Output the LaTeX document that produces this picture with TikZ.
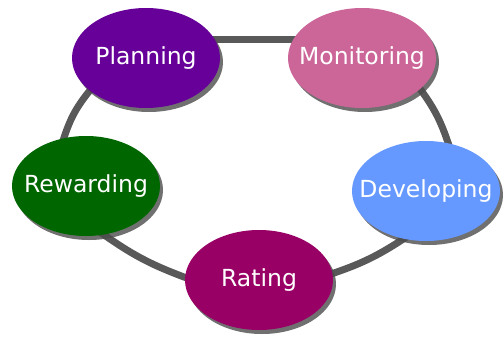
\documentclass[tikz,border=0pt]{standalone}
\usepackage{fontspec}
\setsansfont{DejaVu Sans}
\usetikzlibrary{shapes.geometric,shadows,backgrounds}
\definecolor{planpurple}{HTML}{660099}
\definecolor{monpink}{HTML}{CC6699}
\definecolor{devblue}{HTML}{6699FF}
\definecolor{ratmaroon}{HTML}{990066}
\definecolor{rewgreen}{HTML}{006600}
\definecolor{ringgray}{HTML}{595959}

\begin{document}
\begin{tikzpicture}[x=1pt,y=1pt,
    stage/.style={ellipse, minimum width=148pt, minimum height=100pt, inner xsep=-18pt, inner ysep=0pt,
        text=white, font=\sffamily\fontsize{23.5}{24}\selectfont,
        drop shadow={shadow xshift=3pt, shadow yshift=-4pt, fill=black!70, opacity=0.8}},
    ring/.style={line width=7pt, color=ringgray, shorten <=-12pt, shorten >=-12pt}]
    \useasboundingbox (0,0) rectangle (504,-338);
    % the five stages
    \node[stage, fill=planpurple] (plan) at (146,-58) {Planning};
    \node[stage, fill=monpink]    (mon)  at (362,-58) {Monitoring};
    \node[stage, fill=devblue]    (dev)  at (426,-191) {Developing};
    \node[stage, fill=ratmaroon]  (rat)  at (259,-280) {Rating};
    \node[stage, fill=rewgreen]   (rew)  at (86,-186) {Rewarding};
    % ring behind them
    \begin{scope}[on background layer]
        \draw[ring] (plan.15) -- (mon.165);
        \draw[ring] (mon.-28) to[bend left=10] (dev.65);
        \draw[ring] (dev.-115) to[bend left=8] (rat.5);
        \draw[ring] (rat.178) to[bend left=8] (rew.-70);
        \draw[ring] (rew.115) to[bend left=12] (plan.-150);
    \end{scope}
\end{tikzpicture}
\end{document}
